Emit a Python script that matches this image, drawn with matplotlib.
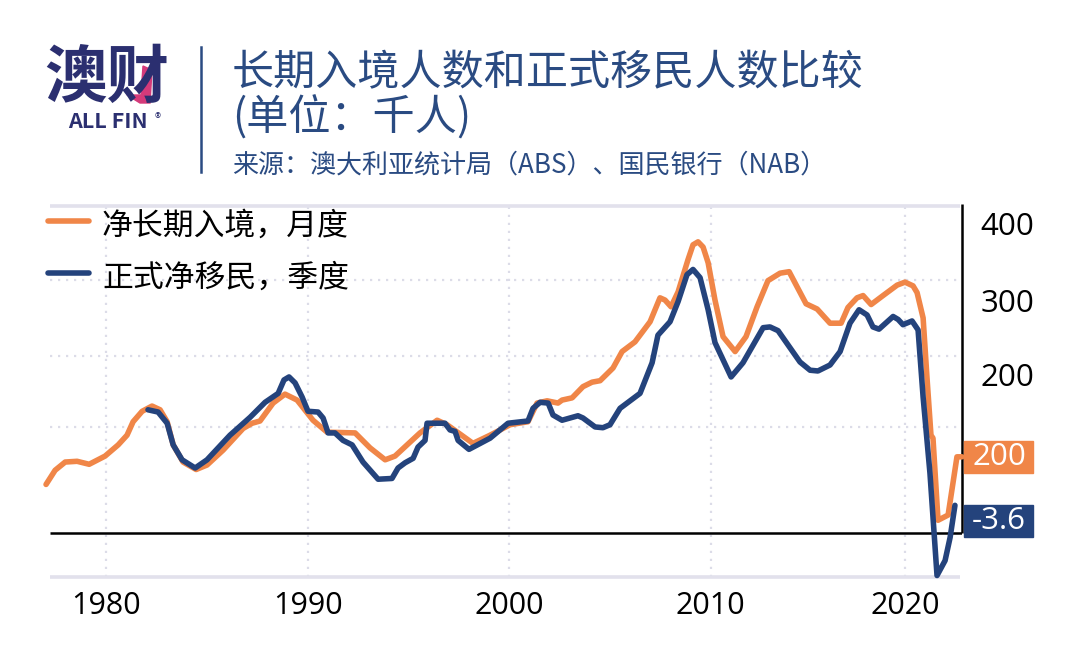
import matplotlib
matplotlib.use('Agg')
import matplotlib.pyplot as plt
from matplotlib.patches import Polygon, Rectangle

plt.rcParams['font.family'] = ['Noto Sans CJK SC', 'DejaVu Sans']

# orange series: net long term arrivals, monthly
arrivals_years = [1977.02, 1977.47, 1977.97, 1978.56, 1979.16, 1979.95, 1980.6, 1981.04, 1981.34, 1981.79,
                  1982.28, 1982.68, 1983.03, 1983.33, 1983.82, 1984.47, 1985.01, 1985.81, 1986.8, 1987.25,
                  1987.64, 1988.29, 1988.88, 1989.48, 1990.27, 1990.97, 1992.36, 1993.1, 1993.85, 1994.34,
                  1995.58, 1996.43, 1996.92, 1998.21, 1999.06, 2000.05, 2000.94, 2001.39, 2001.89, 2002.43,
                  2002.63, 2003.13, 2003.67, 2004.12, 2004.52, 2005.16, 2005.61, 2006.25, 2007.0, 2007.49,
                  2007.74, 2008.04, 2008.39, 2008.88, 2009.13, 2009.38, 2009.63, 2009.88, 2010.22, 2010.62,
                  2011.22, 2011.76, 2012.31, 2012.85, 2013.45, 2013.9, 2014.29, 2014.74, 2015.29, 2015.93,
                  2016.48, 2016.82, 2017.27, 2017.57, 2017.97, 2018.56, 2019.26, 2019.65, 2020.05, 2020.25,
                  2020.55, 2020.74, 2020.94, 2021.04, 2021.29, 2021.79, 2022.23, 2022.48]
arrivals_values = [65, 84, 95, 96, 92, 103, 118, 131, 149, 163,
                   170, 165, 149, 118, 95, 85, 91, 111, 140, 147,
                   150, 174, 186, 178, 151, 135, 134, 114, 98, 103,
                   134, 151, 145, 120, 131, 145, 149, 174, 177, 174,
                   178, 181, 196, 202, 204, 221, 243, 256, 283, 315,
                   312, 303, 323, 366, 386, 390, 383, 362, 312, 263,
                   243, 263, 303, 338, 348, 350, 330, 307, 300, 281,
                   281, 302, 315, 318, 306, 318, 332, 336, 331, 322,
                   288, 209, 131, 127, 17, 24, 102, 102]

# blue series: net overseas migration, quarterly
migration_years = [1982.08, 1982.58, 1983.03, 1983.33, 1983.77, 1984.42, 1985.01, 1986.15, 1987.15, 1987.89,
                   1988.54, 1988.83, 1989.08, 1989.38, 1989.73, 1990.02, 1990.52, 1990.77, 1991.02, 1991.36,
                   1991.76, 1992.21, 1992.75, 1993.5, 1994.19, 1994.49, 1994.84, 1995.24, 1995.48, 1995.83,
                   1995.93, 1996.82, 1997.07, 1997.32, 1997.47, 1998.01, 1999.06, 1999.95, 2000.94, 2001.19,
                   2001.54, 2001.94, 2002.18, 2002.63, 2003.42, 2003.67, 2004.27, 2004.66, 2005.01, 2005.51,
                   2006.5, 2007.1, 2007.39, 2007.99, 2008.39, 2008.83, 2009.13, 2009.48, 2009.88, 2010.22,
                   2011.02, 2011.61, 2012.61, 2012.95, 2013.35, 2014.44, 2014.94, 2015.33, 2015.93, 2016.43,
                   2016.92, 2017.37, 2017.77, 2018.06, 2018.36, 2019.06, 2019.31, 2019.55, 2020.0, 2020.3,
                   2020.55, 2020.89, 2021.24, 2021.64, 2021.89, 2022.13]
migration_values = [165, 162, 147, 118, 98, 87, 98, 131, 155, 175,
                    187, 205, 209, 201, 182, 163, 162, 154, 134, 134,
                    124, 118, 95, 72, 73, 87, 94, 100, 115, 124,
                    147, 147, 138, 136, 124, 112, 127, 147, 150, 167,
                    175, 174, 158, 151, 157, 154, 142, 141, 145, 167,
                    187, 228, 265, 283, 310, 346, 353, 342, 299, 255,
                    209, 228, 275, 276, 271, 229, 218, 217, 225, 243,
                    281, 299, 292, 276, 273, 290, 286, 279, 284, 272,
                    182, 80, -57, -37, -6, 37]

x_ticks = [1980, 1990, 2000, 2010, 2019.65]
x_labels = ['1980', '1990', '2000', '2010', '2020']
y_ticks = [212, 312, 414]
y_labels = ['200', '300', '400']
grid_values = [142, 237, 339]

ORANGE = '#f08648'
BLUE = '#24437c'
NAVY = '#2b2f70'
TITLE = '#2a4b82'
GRID = '#dcdce8'
EDGE = '#e2e1ec'
NUM_FONT = ['Open Sans', 'DejaVu Sans']


def fx(px):
    return px / 1080


def fy(py):
    return 1 - py / 664


fig = plt.figure(figsize=(10.8, 6.64), dpi=100, facecolor='white')
ax = fig.add_axes([fx(40), fy(577), fx(922), 371 / 664])
ax.set_xlim(1976.72, 2022.48)
ax.set_ylim(-59, 438)
for s in ax.spines.values():
    s.set_visible(False)

# grid
ax.vlines(x_ticks, -59, 438, color=GRID, lw=1.6, linestyles=(0, (1, 2.6)), zorder=1)
ax.hlines(grid_values, 1977.22, 2022.38, color=GRID, lw=1.6, linestyles=(0, (1, 2.6)), zorder=1)
ax.hlines([-59, 438], 1977.22, 2022.38, color=EDGE, lw=2.6, zorder=1, clip_on=False)
ax.hlines(0, 1977.22, 2022.48, color='black', lw=1.8, zorder=2)
ax.vlines(2022.48, 0, 441, color='black', lw=1.8, zorder=2, clip_on=False)

ax.plot(arrivals_years, arrivals_values, color=ORANGE, lw=4, solid_joinstyle='round',
        solid_capstyle='round', zorder=3, clip_on=False)
ax.plot(migration_years, migration_values, color=BLUE, lw=4, solid_joinstyle='round',
        solid_capstyle='round', zorder=4, clip_on=False)

ax.set_xticks(x_ticks, x_labels, family=NUM_FONT, fontsize=22)
ax.yaxis.tick_right()
ax.set_yticks(y_ticks, y_labels, family=NUM_FONT, fontsize=22.5)
ax.tick_params(axis='both', length=0)
ax.tick_params(axis='x', pad=10)
ax.tick_params(axis='y', pad=13.5)

# legend
fig.add_artist(plt.Line2D([fx(48), fx(89)], [fy(221), fy(221)], color=ORANGE, lw=4, solid_capstyle='round'))
fig.add_artist(plt.Line2D([fx(48), fx(89)], [fy(273), fy(273)], color=BLUE, lw=4, solid_capstyle='round'))
fig.text(fx(102), fy(226), '净长期入境\uff0c月度', fontsize=22.2, color='black', va='center')
fig.text(fx(102), fy(278), '正式净移民\uff0c季度', fontsize=22.2, color='black', va='center')

# end value boxes
fig.add_artist(Rectangle((fx(964), fy(473)), 69 / 1080, 32 / 664, color=ORANGE, transform=fig.transFigure))
fig.add_artist(Rectangle((fx(964), fy(537)), 69 / 1080, 32 / 664, color=BLUE, transform=fig.transFigure))
fig.text(fx(999), fy(457), '200', fontsize=22.5, family=NUM_FONT, color='white', ha='center', va='center')
fig.text(fx(999), fy(521), '-3.6', fontsize=22.5, family=NUM_FONT, color='white', ha='center', va='center')

# header
fig.text(fx(232), fy(73), '长期入境人数和正式移民人数比较', fontsize=30.3, color=TITLE, va='center')
fig.text(fx(232), fy(118), '(单位\uff1a千人)', fontsize=30.3, color=TITLE, va='center')
fig.text(fx(232), fy(165), '来源\uff1a澳大利亚统计局\uff08ABS\uff09、国民银行\uff08NAB\uff09', fontsize=18.75,
         color=TITLE, va='center')
fig.add_artist(plt.Line2D([fx(201), fx(201)], [fy(47), fy(172)], color=TITLE, lw=1.8))

# logo
fig.text(fx(107), fy(78), '澳财', fontsize=45, fontweight='bold', color=NAVY, ha='center', va='center')
fig.add_artist(Polygon([(fx(143), fy(66)), (fx(152), fy(70)), (fx(150), fy(103)), (fx(140), fy(103)),
                        (fx(127), fy(95)), (fx(141), fy(95))], closed=True, color='#d43a7a',
                       transform=fig.transFigure))
fig.text(fx(108), fy(121), 'ALL FIN', fontsize=15.5, fontweight='bold', color=NAVY, ha='center', va='center')
fig.text(fx(158), fy(119), '®', fontsize=9, color=NAVY, ha='center', va='center')

fig.savefig('out.png', dpi=100)
plt.close(fig)
